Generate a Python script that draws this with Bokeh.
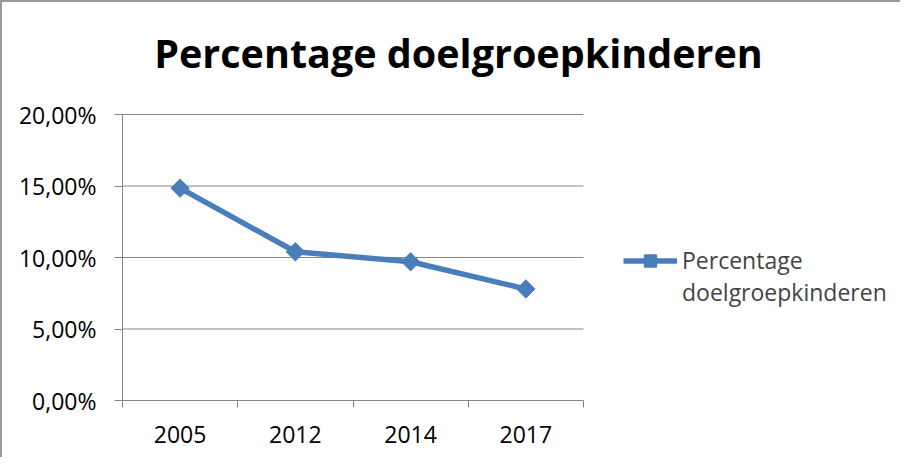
import math
from bokeh.plotting import figure
from bokeh.models import Range1d, FixedTicker, Label, Legend, LegendItem
from bokeh.embed import file_html
from bokeh.resources import INLINE

years = ["2005", "2012", "2014", "2017"]
percentages = [0.1485, 0.104, 0.097, 0.078]
y_ticks = [0.0, 0.05, 0.10, 0.15, 0.20]
y_tick_labels = ["0,00%", "5,00%", "10,00%", "15,00%", "20,00%"]
title_text = "Percentage doelgroepkinderen"
series_lines = ["Percentage", "doelgroepkinderen"]

LINE_COLOR = "#4A7EBB"
GRID = "#868686"
FONT = "Open Sans"

# layout (pixels)
W, H = 900, 457
LEFT, BOTTOM = 120, 59
CAT_PX = 115.25          # width of one category
PLOT_PX = 286            # height of the 0..20% span
frame_w = W - LEFT
frame_h = H - BOTTOM
y_max = y_ticks[-1]
y_top = y_max * frame_h / PLOT_PX
x_top = frame_w / CAT_PX

p = figure(width=W, height=H, output_backend="svg", toolbar_location=None,
           x_range=Range1d(0, x_top), y_range=Range1d(0, y_top),
           min_border_left=LEFT, min_border_top=0, min_border_right=0,
           min_border_bottom=BOTTOM)
p.styles = {"border-left": "2px solid #9a9a9a", "border-top": "2px solid #9a9a9a"}
p.outline_line_color = None
p.background_fill_color = "white"
p.border_fill_color = "white"
p.xgrid.visible = False
p.ygrid.visible = False

n = len(years)
xs = [i + 0.5 for i in range(n)]

# horizontal gridlines over the plot area only
grid_y = [t for t in y_ticks if t > 0]
p.segment(x0=[0] * len(grid_y), x1=[n] * len(grid_y), y0=grid_y, y1=grid_y,
          line_color=GRID, line_width=1)

line = p.line(xs, percentages, line_color=LINE_COLOR, line_width=5.5)
marks = p.scatter(xs, percentages, marker="square", size=13, angle=math.pi / 4,
                  fill_color=LINE_COLOR, line_color=LINE_COLOR)
# invisible renderer used only for the second legend text line
blank = p.line([], [], line_alpha=0)

# x axis
xa = p.xaxis[0]
xa.bounds = (0, n)
xa.ticker = FixedTicker(ticks=xs, minor_ticks=list(range(n + 1)))
xa.major_label_overrides = {x: y for x, y in zip(xs, years)}
xa.major_tick_out = 0
xa.major_tick_in = 0
xa.minor_tick_out = 7
xa.minor_tick_in = 0
xa.minor_tick_line_color = GRID
xa.axis_line_color = GRID
xa.major_label_standoff = 18
xa.major_label_text_font = FONT
xa.major_label_text_font_size = "23px"
xa.major_label_text_color = "black"

# y axis
ya = p.yaxis[0]
ya.bounds = (0, y_max)
ya.ticker = FixedTicker(ticks=y_ticks, minor_ticks=[])
ya.major_label_overrides = {t: s for t, s in zip(y_ticks, y_tick_labels)}
ya.major_tick_out = 8
ya.major_tick_in = 0
ya.major_tick_line_color = GRID
ya.axis_line_color = GRID
ya.minor_tick_line_color = None
ya.major_label_standoff = 18
ya.major_label_text_font = FONT
ya.major_label_text_font_size = "23px"
ya.major_label_text_color = "black"

# title
title = Label(x=336, y=348, x_units="screen", y_units="screen", text=title_text,
              text_align="center", text_baseline="alphabetic",
              text_font=FONT, text_font_style="bold", text_font_size="39.5px",
              text_color="black")
p.add_layout(title)

legend = Legend(items=[LegendItem(label=series_lines[0], renderers=[line, marks]),
                       LegendItem(label=series_lines[1], renderers=[blank])],
                location=(501, 92), padding=0, margin=0, spacing=0,
                glyph_width=54, glyph_height=31, label_standoff=5,
                label_height=31,
                label_text_font=FONT, label_text_font_size="23px",
                border_line_color=None, background_fill_alpha=0)
p.add_layout(legend)

open("out.html", "w").write(file_html(p, INLINE))
